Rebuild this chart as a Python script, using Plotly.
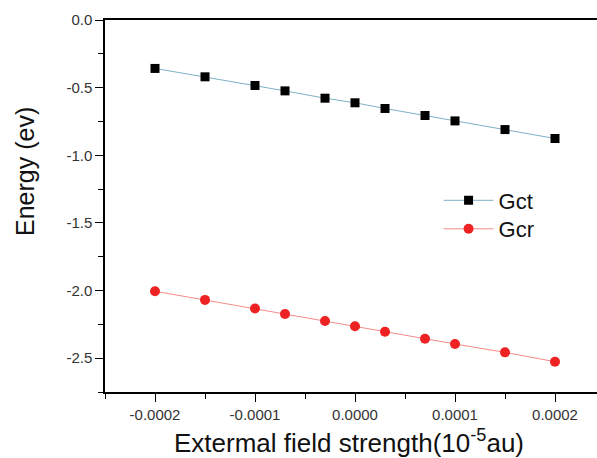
import plotly.graph_objects as go

field = [-0.0002, -0.00015, -0.0001, -0.00007, -0.00003, 0.0, 0.00003, 0.00007, 0.0001, 0.00015, 0.0002]
gct = [-0.358, -0.420, -0.484, -0.524, -0.578, -0.612, -0.654, -0.706, -0.746, -0.810, -0.876]
gcr = [-2.005, -2.069, -2.133, -2.173, -2.225, -2.264, -2.304, -2.356, -2.395, -2.457, -2.526]

x_ticks = [-0.0002, -0.0001, 0.0, 0.0001, 0.0002]
x_ticklabels = ["-0.0002", "-0.0001", "0.0000", "0.0001", "0.0002"]
y_ticks = [0.0, -0.5, -1.0, -1.5, -2.0, -2.5]
y_ticklabels = ["0.0", "-0.5", "-1.0", "-1.5", "-2.0", "-2.5"]

FONT = "Liberation Sans, Arial, sans-serif"

fig = go.Figure()
fig.add_trace(go.Scatter(
    x=field, y=gct, name="Gct", mode="lines+markers", legend="legend",
    line=dict(color="#7fb0c8", width=1),
    marker=dict(symbol="square", size=9, color="#000000"),
))
fig.add_trace(go.Scatter(
    x=field, y=gcr, name="Gcr", mode="lines+markers", legend="legend2",
    line=dict(color="#f58a8a", width=1),
    marker=dict(symbol="circle", size=10, color="#ee2222"),
))

leg_common = dict(xanchor="left", yanchor="middle", bgcolor="rgba(0,0,0,0)",
                  font=dict(size=22, color="#111111", family=FONT), itemwidth=50)

fig.update_layout(
    width=597, height=458,
    margin=dict(l=105, r=0, t=20, b=66),
    paper_bgcolor="white", plot_bgcolor="white",
    font=dict(family=FONT, color="#222222"),
    showlegend=True,
    legend=dict(x=0.678, y=1 - (200.5 - 20) / 372, **leg_common),
    legend2=dict(x=0.678, y=1 - (229 - 20) / 372, **leg_common),
    annotations=[
        dict(text="Energy (ev)", xref="paper", yref="paper",
             x=-(105 - 25) / 492, y=1 - (172 - 20) / 372,
             xanchor="center", yanchor="middle", textangle=-90, showarrow=False,
             font=dict(size=25, color="#111111", family=FONT)),
        dict(text="Extermal field strength(10<sup>-5</sup>au)", xref="paper", yref="paper",
             x=(349 - 105) / 492, y=-(441 - 392) / 372,
             xanchor="center", yanchor="middle", showarrow=False,
             font=dict(size=26, color="#111111", family=FONT)),
    ],
)
fig.update_xaxes(
    range=[-0.00025, 0.000242],
    tickmode="array", tickvals=x_ticks, ticktext=x_ticklabels,
    ticks="outside", ticklen=8, tickwidth=1.2, tickcolor="#000",
    minor=dict(dtick=0.00005, tick0=-0.00025, ticks="outside", ticklen=5, tickcolor="#000", showgrid=False),
    showline=True, linecolor="#000", linewidth=1.5, mirror=True,
    showgrid=False, zeroline=False,
    tickfont=dict(size=15, color="#333333"),
)
fig.update_yaxes(
    range=[-2.75, 0.0],
    tickmode="array", tickvals=y_ticks, ticktext=y_ticklabels,
    ticks="outside", ticklen=8, tickwidth=1.2, tickcolor="#000",
    minor=dict(dtick=0.25, tick0=0, ticks="outside", ticklen=5, tickcolor="#000", showgrid=False),
    showline=True, linecolor="#000", linewidth=1.5, mirror=False,
    showgrid=False, zeroline=False,
    tickfont=dict(size=15, color="#333333"),
)

fig.write_html("out.html")
